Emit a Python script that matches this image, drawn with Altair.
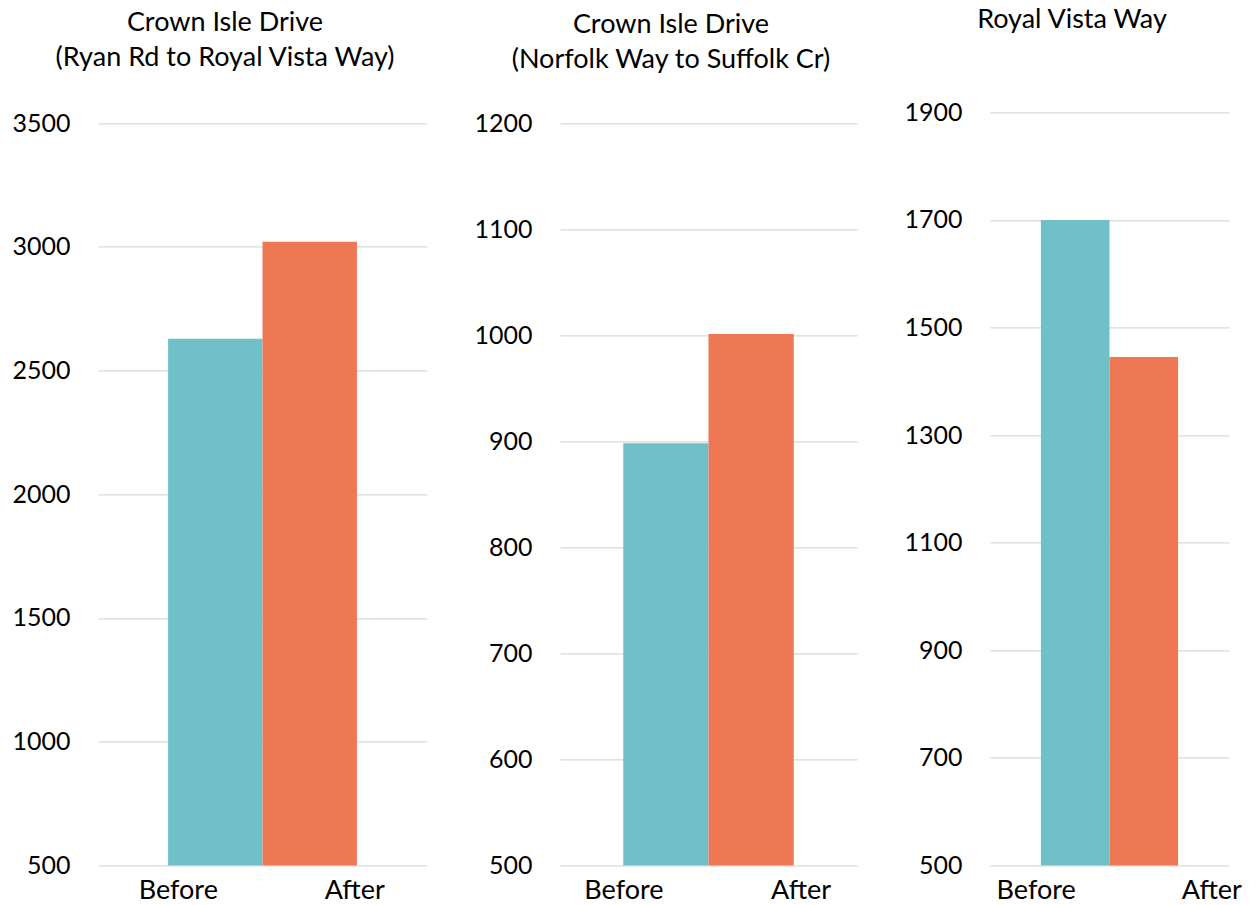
import altair as alt
import pandas as pd

# ---- data ----
periods = ["Before", "After"]
titles = [
    ["Crown Isle Drive", "(Ryan Rd to Royal Vista Way)"],
    ["Crown Isle Drive", "(Norfolk Way to Suffolk Cr)"],
    ["Royal Vista Way"],
]
values_ryan = [2628, 3020]
values_norfolk = [898, 1001]
values_royal = [1700, 1445]
ticks_ryan = [500, 1000, 1500, 2000, 2500, 3000, 3500]
ticks_norfolk = [500, 600, 700, 800, 900, 1000, 1100, 1200]
ticks_royal = [500, 700, 900, 1100, 1300, 1500, 1700, 1900]
colors = ["#70C1C7", "#EE7853"]

FONT = "Lato"


def panel(title, vals, ticks, ymax, width, title_offset, lab_off):
    df = pd.DataFrame({"period": periods, "count": vals})
    return (
        alt.Chart(df)
        .mark_bar(clip=True)
        .encode(
            x=alt.X(
                "period:N",
                sort=periods,
                scale=alt.Scale(paddingInner=0, paddingOuter=0.742),
                axis=alt.Axis(
                    title=None,
                    labelAngle=0,
                    labelPadding=12,
                    labelFontSize=27,
                    labelOverlap=False,
                    grid=False,
                    labelOffset={
                        "condition": {"test": "datum.value === 'Before'", "value": lab_off[0]},
                        "value": lab_off[1],
                    },
                ),
            ),
            y=alt.Y(
                "count:Q",
                scale=alt.Scale(domain=[500, ymax], nice=False, zero=False),
                axis=alt.Axis(
                    title=None,
                    values=ticks,
                    format="d",
                    grid=True,
                    gridColor="#D9D9D9",
                    gridWidth=1.3,
                    labelPadding=28,
                ),
            ),
            color=alt.Color(
                "period:N",
                scale=alt.Scale(domain=periods, range=colors),
                legend=None,
            ),
        )
        .properties(
            width=width,
            height=753,
            title=alt.TitleParams(
                text=title,
                anchor="middle",
                frame="group",
                dx=-37.5,
                offset=title_offset,
                font=FONT,
                fontSize=27,
                fontWeight="normal",
                color="#000000",
                lineHeight=35,
            ),
        )
    )


p1 = panel(titles[0], values_ryan, ticks_ryan, 3543, 329, 38.6, (-37, 45))
p2 = panel(titles[1], values_norfolk, ticks_norfolk, 1210, 297, 36.6, (-42, 50))
p3 = panel(titles[2], values_royal, ticks_royal, 1900, 239, 66, (-39, 68))

chart = (
    alt.hconcat(p1, p2, p3, spacing=133, bounds="flush")
    .properties(padding={"left": 3, "top": -2.6, "right": 0, "bottom": 0})
    .configure(font=FONT)
    .configure_view(stroke="transparent")
    .configure_axis(
        domain=False,
        ticks=False,
        tickSize=0,
        labelFont=FONT,
        labelFontSize=25,
        labelColor="#000000",
    )
)

chart.save("out.html", embed_options={"renderer": "svg", "actions": False})
